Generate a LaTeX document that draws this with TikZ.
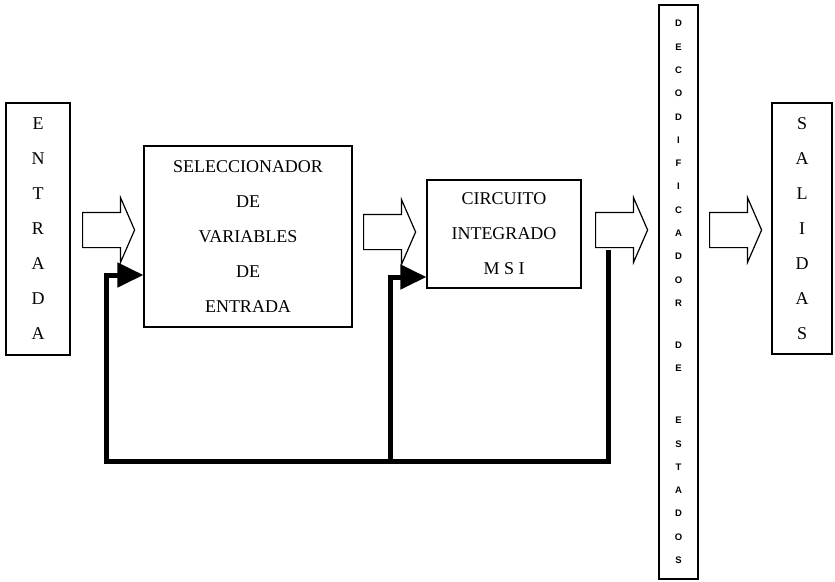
\documentclass[tikz,border=0pt]{standalone}
\usepackage{fontspec}
\setmainfont{Liberation Serif}
\newfontfamily\decofont{Liberation Sans}
\usepackage{tikz}
\usetikzlibrary{positioning,shapes.arrows,arrows.meta}

\begin{document}
\begin{tikzpicture}[x=1pt, y=-1pt]
            \tikzstyle{bloque} = [draw=black, line width=1.2pt, rectangle, align=center, inner sep=0pt, font=\fontsize{18}{35}\selectfont];
            \tikzstyle{flecha} = [draw=black, line width=1.2pt, fill=white, single arrow, single arrow head extend=15pt, single arrow tip angle=133, inner xsep=0pt, inner ysep=17pt, minimum height=52pt]
            \tikzstyle{realim} = [line width=5pt, -{Triangle[length=26pt, width=24pt]}]
            \useasboundingbox (0,0) rectangle (835,581);

            \node [bloque, minimum width=64pt, minimum height=252pt] (entrada) at (38,229) {E\\N\\T\\R\\A\\D\\A};
            \node [bloque, minimum width=208pt, minimum height=181pt] (selec) at (248,236.5) {SELECCIONADOR\\DE\\VARIABLES\\DE\\ENTRADA};
            \node [bloque, minimum width=154pt, minimum height=108pt] (circ) at (504,234) {CIRCUITO\\INTEGRADO\\M S I};
            \node [bloque, minimum width=39pt, minimum height=574pt, font=\decofont\bfseries\fontsize{9.5}{23.3}\selectfont] (deco) at (678.5,292)
                {D\\E\\C\\O\\D\\I\\F\\I\\C\\A\\D\\O\\R\\[18.7pt]D\\E\\[28.7pt]E\\S\\T\\A\\D\\O\\S};
            \node [bloque, minimum width=60pt, minimum height=251pt] (salidas) at (802,228.5) {S\\A\\L\\I\\D\\A\\S};

            \node [flecha, anchor=tail] (f1) at (82,230) {};
            \node [flecha, anchor=tail] (f2) at (363,232) {};
            \node [flecha, anchor=tail] (f3) at (595,230) {};
            \node [flecha, anchor=tail] (f4) at (709,230) {};

            \coordinate (toma) at (608,250);
            \coordinate (esquina) at (106,461);
            \coordinate (union) at (390,461);

            \draw [realim] (toma) |- (esquina) |- ([yshift=-38.5pt]selec.west);
            \draw [realim] (union) |- ([yshift=-43pt]circ.west);
        \end{tikzpicture}
\end{document}
